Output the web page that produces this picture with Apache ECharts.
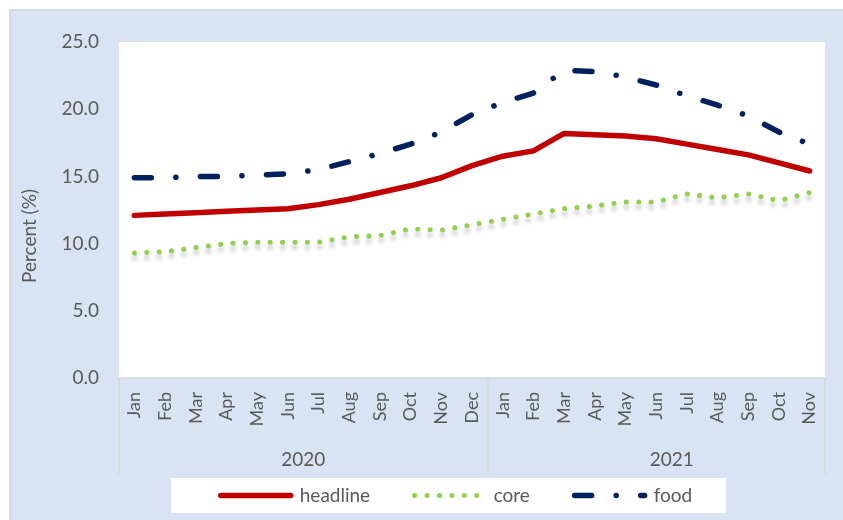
<!DOCTYPE html>
<html>
<head>
<meta charset="utf-8">
<script src="https://cdn.jsdelivr.net/npm/echarts@6/dist/echarts.min.js"></script>
<style>
  html, body { margin: 0; padding: 0; background: #fff; }
  #chart { width: 843px; height: 520px; }
</style>
</head>
<body>
<div id="chart"></div>
<script>
let months = ['Jan', 'Feb', 'Mar', 'Apr', 'May', 'Jun', 'Jul', 'Aug', 'Sep', 'Oct', 'Nov', 'Dec',
  'Jan', 'Feb', 'Mar', 'Apr', 'May', 'Jun', 'Jul', 'Aug', 'Sep', 'Oct', 'Nov'];
let years = ['2020', '2021'];
let headline = [12.1, 12.2, 12.3, 12.4, 12.5, 12.6, 12.9, 13.3, 13.8, 14.3, 14.9, 15.8,
  16.5, 16.9, 18.2, 18.1, 18.0, 17.8, 17.4, 17.0, 16.6, 16.0, 15.4];
let core = [9.3, 9.4, 9.7, 10.0, 10.1, 10.1, 10.1, 10.5, 10.6, 11.1, 11.0, 11.4,
  11.8, 12.2, 12.6, 12.8, 13.1, 13.1, 13.7, 13.4, 13.7, 13.2, 13.8];
let food = [14.9, 14.9, 15.0, 15.0, 15.1, 15.2, 15.5, 16.1, 16.7, 17.4, 18.3, 19.6,
  20.5, 21.2, 22.9, 22.8, 22.4, 21.8, 21.0, 20.3, 19.5, 18.3, 17.4];
let yTicks = [0, 5, 10, 15, 20, 25];

let fontName = 'Lato, "Open Sans", sans-serif';
let grey = '#595959';
// where each year starts on the month axis
let yearStart = [0, 12];
let yearLabelAt = [5, 17];

let headlineStyle = { color: '#c00000', width: 5.5, cap: 'round', join: 'round' };
let coreStyle = { color: '#92d050', width: 5, type: [0.1, 12.3], cap: 'round' };
let foodStyle = { color: '#002060', width: 5.5, type: [17, 24.5, 0.1, 24.5], cap: 'round' };

let chart = echarts.init(document.getElementById('chart'), null, { renderer: 'canvas' });

let option = {
  backgroundColor: '#ffffff',
  animation: false,
  textStyle: { fontFamily: fontName },
  graphic: [{
    type: 'rect',
    z: -10,
    shape: { x: 10, y: 10, width: 850, height: 530 },
    style: { fill: '#dae3f3', stroke: '#d4d4d4', lineWidth: 1.5 }
  }],
  grid: {
    left: 119, right: 18, top: 42, bottom: 142,
    show: true, backgroundColor: '#ffffff', borderWidth: 0
  },
  legend: {
    left: 171, top: 478,
    backgroundColor: '#ffffff',
    padding: [8, 34, 8, 47],
    itemWidth: 70, itemHeight: 18, itemGap: 42,
    itemStyle: { opacity: 0 },
    textStyle: { fontSize: 19, color: grey, fontFamily: fontName, padding: [0, 0, 0, 4] },
    data: [
      { name: 'headline', lineStyle: headlineStyle },
      { name: 'core', lineStyle: coreStyle },
      { name: 'food', lineStyle: foodStyle }
    ]
  },
  xAxis: [{
    type: 'category',
    data: months,
    boundaryGap: true,
    axisLine: { lineStyle: { color: '#d9d9d9', width: 1.5 } },
    axisTick: { show: false },
    axisLabel: { rotate: 90, interval: 0, margin: 14, fontSize: 18, color: grey, fontFamily: fontName }
  }, {
    type: 'category',
    position: 'bottom',
    data: months.map((m, i) => m + i),
    boundaryGap: true,
    axisLine: { show: false },
    axisTick: {
      show: true, length: 96,
      interval: (i) => yearStart.indexOf(i) >= 0,
      lineStyle: { color: '#d9d9d9', width: 2 }
    },
    axisLabel: {
      interval: (i) => yearLabelAt.indexOf(i) >= 0,
      formatter: (v, i) => years[yearLabelAt.indexOf(i)],
      margin: 72, fontSize: 19, color: grey, fontFamily: fontName,
      padding: [0, 0, 0, 31]
    }
  }],
  yAxis: {
    type: 'value',
    min: yTicks[0], max: yTicks[yTicks.length - 1], interval: 5,
    name: 'Percent (%)',
    nameLocation: 'middle',
    nameGap: 80,
    nameTextStyle: { fontSize: 19, color: grey, fontFamily: fontName, padding: [0, 52, 0, 0] },
    axisLine: { show: false },
    axisTick: { show: false },
    splitLine: { show: false },
    axisLabel: { margin: 20, fontSize: 19, color: grey, fontFamily: fontName, formatter: (v) => v.toFixed(1) }
  },
  series: [{
    name: 'headline',
    type: 'line',
    data: headline,
    symbol: 'none',
    color: '#c00000',
    lineStyle: headlineStyle
  }, {
    name: 'core',
    type: 'line',
    data: core,
    symbol: 'none',
    color: '#92d050',
    lineStyle: Object.assign({
      shadowColor: 'rgba(0,0,0,0.25)', shadowBlur: 4, shadowOffsetY: 5
    }, coreStyle)
  }, {
    name: 'food',
    type: 'line',
    data: food,
    symbol: 'none',
    color: '#002060',
    lineStyle: foodStyle
  }]
};

chart.setOption(option);
</script>
</body>
</html>
